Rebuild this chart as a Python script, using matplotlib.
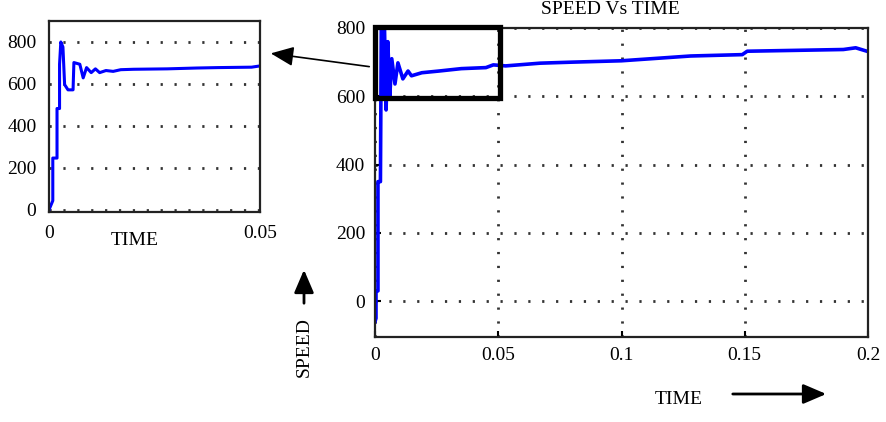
import numpy as np
import matplotlib.pyplot as plt
from matplotlib.patches import Rectangle, FancyArrowPatch

plt.rcParams['font.family'] = ['Liberation Serif', 'DejaVu Serif']
plt.rcParams['font.size'] = 14

# main speed trace (time in s, speed)
main_t = [0, 0.0004, 0.0004, 0.0012, 0.0012, 0.0022, 0.0026, 0.0032, 0.0038, 0.0045,
          0.0052, 0.0060, 0.0068, 0.0081, 0.0093, 0.0113, 0.0134, 0.0148, 0.019, 0.026,
          0.035, 0.045, 0.048, 0.053, 0.067, 0.08, 0.1, 0.128, 0.149, 0.151, 0.19,
          0.195, 0.2]
main_v = [-60, -50, 30, 30, 350, 350, 860, 600, 820, 560,
          760, 600, 710, 636, 698, 651, 674, 660, 669, 674,
          681, 684, 692, 689, 697, 700, 704, 718, 722, 732, 737,
          742, 731]

# zoomed view of the first 0.05 s
inset_t = [0, 0.0009, 0.0009, 0.0019, 0.0019, 0.0025, 0.0025, 0.0028, 0.0033, 0.0037,
           0.0045, 0.0057, 0.0059, 0.0066, 0.0073, 0.0081, 0.0089, 0.010, 0.011, 0.012,
           0.0135, 0.0152, 0.017, 0.02, 0.028, 0.035, 0.04, 0.048, 0.05]
inset_v = [0, 44, 247, 247, 483, 483, 694, 800, 776, 597,
           572, 572, 702, 698, 694, 629, 678, 654, 672, 654,
           664, 660, 668, 670, 672, 676, 678, 680, 686]

main_xticks = [0, 0.05, 0.1, 0.15, 0.2]
main_xlabels = ['0', '0.05', '0.1', '0.15', '0.2']
yticks = [0, 200, 400, 600, 800]

W, H = 887, 422
fig = plt.figure(figsize=(W / 100, H / 100), dpi=100)

def fbox(x0, y0, x1, y1):
    # pixel box -> figure fraction
    return [x0 / W, 1 - y1 / H, (x1 - x0) / W, (y1 - y0) / H]

grid_style = dict(color='#333333', linestyle=(0, (0.8, 4.2)), linewidth=2)

ax = fig.add_axes(fbox(375, 28, 868, 337))
ax.plot(main_t, main_v, color='#0000ff', linewidth=2.6)
ax.set_xlim(0, 0.2)
ax.set_ylim(-105, 800)
ax.set_xticks(main_xticks)
ax.set_xticklabels(main_xlabels)
ax.set_yticks(yticks)
ax.grid(True, **grid_style)
ax.tick_params(direction='in', length=4, width=1.5, pad=7)
for s in ax.spines.values():
    s.set_linewidth(1.6)
    s.set_color('#222222')

# thick box marking the zoomed region
ax.add_patch(Rectangle((0, 596), 0.0507, 207, fill=False, edgecolor='black',
                       linewidth=3.8, clip_on=False, zorder=5))

axi = fig.add_axes(fbox(49, 21, 260, 212))
axi.plot(inset_t, inset_v, color='#0000ff', linewidth=2.2)
axi.set_xlim(0, 0.05)
axi.set_ylim(-10, 900)
axi.set_xticks([0, 0.05])
axi.set_xticklabels(['0', '0.05'])
axi.set_yticks(yticks)
axi.yaxis.grid(True, **grid_style)
axi.tick_params(length=0, pad=9)
for s in axi.spines.values():
    s.set_linewidth(1.6)
    s.set_color('#222222')

fig.text(610 / W, 1 - 10 / H, 'SPEED Vs TIME', ha='center', va='center')
fig.text(135 / W, 1 - 241 / H, 'TIME', ha='center', va='center')
fig.text(679 / W, 1 - 400 / H, 'TIME', ha='center', va='center')
fig.text(304 / W, 1 - 347 / H, 'SPEED', ha='center', va='center', rotation=90)

# arrows
fig.patches.append(FancyArrowPatch(
    (372 / W, 1 - 67 / H), (268 / W, 1 - 53 / H), transform=fig.transFigure,
    arrowstyle='-|>,head_length=14,head_width=6', mutation_scale=1,
    color='black', linewidth=1.2))
fig.patches.append(FancyArrowPatch(
    (730 / W, 1 - 394 / H), (829 / W, 1 - 394 / H), transform=fig.transFigure,
    arrowstyle='-|>,head_length=14,head_width=6', mutation_scale=1,
    color='black', linewidth=2))
fig.patches.append(FancyArrowPatch(
    (304 / W, 1 - 306 / H), (304 / W, 1 - 267 / H), transform=fig.transFigure,
    arrowstyle='-|>,head_length=14,head_width=6', mutation_scale=1,
    color='black', linewidth=2))

fig.savefig('out.png', dpi=100)
